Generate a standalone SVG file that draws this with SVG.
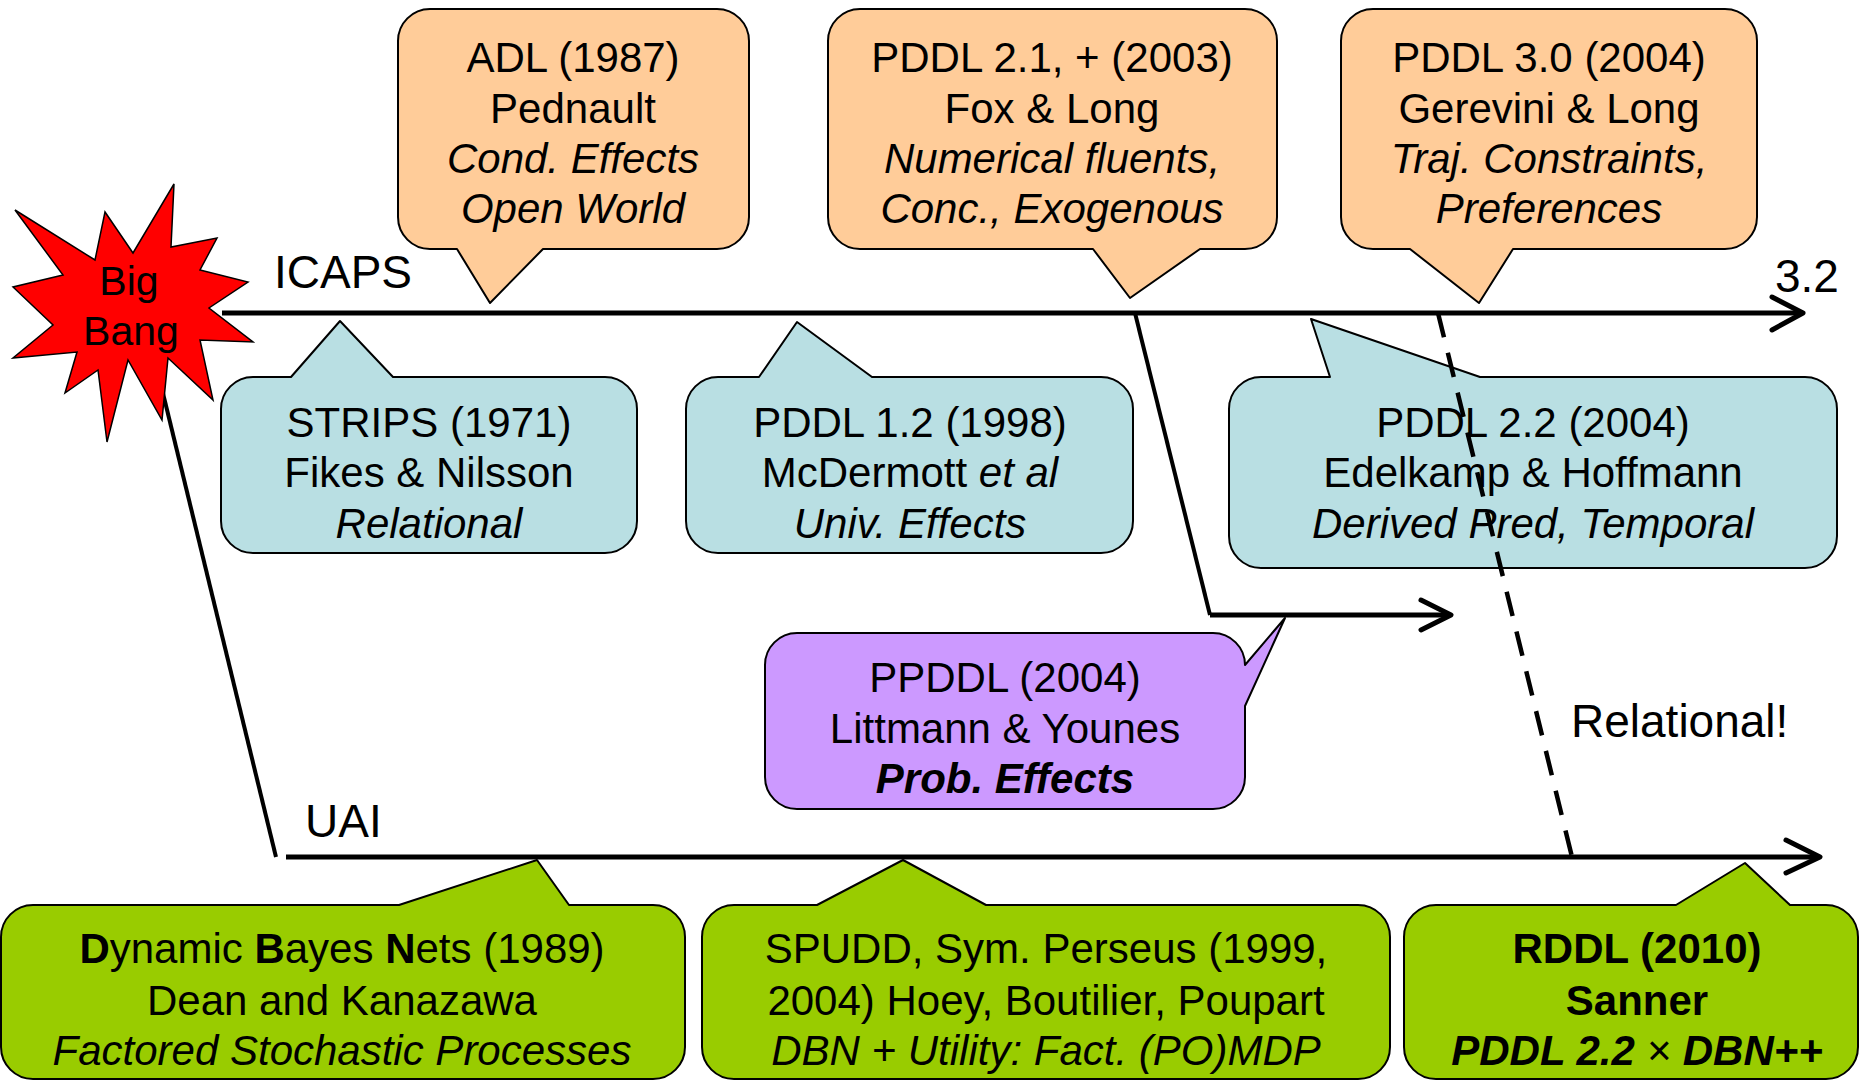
<svg xmlns="http://www.w3.org/2000/svg" width="1860" height="1081" viewBox="0 0 1860 1081">
<style>
.t{font-family:"Liberation Sans",Arial,sans-serif;font-size:42px;fill:#000;text-anchor:middle}
.lbl{font-family:"Liberation Sans",Arial,sans-serif;font-size:46px;fill:#000}
.i{font-style:italic}
.b{font-weight:bold}
.bub{stroke:#000;stroke-width:2;stroke-linejoin:round}
.or{fill:#FFCC99}
.bl{fill:#B9DFE3}
.pu{fill:#CC99FF}
.gr{fill:#99CC00}
.ln{stroke:#000;fill:none;stroke-width:5}
.arr{stroke:#000;fill:none;stroke-width:5;stroke-linecap:round;stroke-linejoin:round}
</style>
<rect width="1860" height="1081" fill="#fff"/>

<g id="nodes">
<g id="adl">
<path class="bub or" d="M430,9 H717 A32,32 0 0 1 749,41 V217 A32,32 0 0 1 717,249 H543 L490,303 L457,249 H430 A32,32 0 0 1 398,217 V41 A32,32 0 0 1 430,9 Z"/>
<text class="t" x="573" y="72">ADL (1987)</text>
<text class="t" x="573" y="123">Pednault</text>
<text class="t i" x="573" y="173">Cond. Effects</text>
<text class="t i" x="573" y="223">Open World</text>
</g>
<g id="pddl21">
<path class="bub or" d="M860,9 H1245 A32,32 0 0 1 1277,41 V217 A32,32 0 0 1 1245,249 H1200 L1130,298 L1093,249 H860 A32,32 0 0 1 828,217 V41 A32,32 0 0 1 860,9 Z"/>
<text class="t" x="1052" y="72">PDDL 2.1, + (2003)</text>
<text class="t" x="1052" y="123">Fox &amp; Long</text>
<text class="t i" x="1052" y="173">Numerical fluents,</text>
<text class="t i" x="1052" y="223">Conc., Exogenous</text>
</g>
<g id="pddl30">
<path class="bub or" d="M1373,9 H1725 A32,32 0 0 1 1757,41 V217 A32,32 0 0 1 1725,249 H1513 L1479,303 L1410,249 H1373 A32,32 0 0 1 1341,217 V41 A32,32 0 0 1 1373,9 Z"/>
<text class="t" x="1549" y="72">PDDL 3.0 (2004)</text>
<text class="t" x="1549" y="123">Gerevini &amp; Long</text>
<text class="t i" x="1549" y="173">Traj. Constraints,</text>
<text class="t i" x="1549" y="223">Preferences</text>
</g>
<g id="strips">
<path class="bub bl" d="M253,377 H291 L340,321 L393,377 H605 A32,32 0 0 1 637,409 V521 A32,32 0 0 1 605,553 H253 A32,32 0 0 1 221,521 V409 A32,32 0 0 1 253,377 Z"/>
<text class="t" x="429" y="437">STRIPS (1971)</text>
<text class="t" x="429" y="487">Fikes &amp; Nilsson</text>
<text class="t i" x="429" y="538">Relational</text>
</g>
<g id="pddl12">
<path class="bub bl" d="M718,377 H759 L797,322 L872,377 H1101 A32,32 0 0 1 1133,409 V521 A32,32 0 0 1 1101,553 H718 A32,32 0 0 1 686,521 V409 A32,32 0 0 1 718,377 Z"/>
<text class="t" x="910" y="437">PDDL 1.2 (1998)</text>
<text class="t" x="910" y="487">McDermott <tspan class="i">et al</tspan></text>
<text class="t i" x="910" y="538">Univ. Effects</text>
</g>
<g id="pddl22">
<path class="bub bl" d="M1261,377 H1330 L1311,319 L1480,377 H1805 A32,32 0 0 1 1837,409 V536 A32,32 0 0 1 1805,568 H1261 A32,32 0 0 1 1229,536 V409 A32,32 0 0 1 1261,377 Z"/>
<text class="t" x="1533" y="437">PDDL 2.2 (2004)</text>
<text class="t" x="1533" y="487">Edelkamp &amp; Hoffmann</text>
<text class="t i" x="1533" y="538">Derived Pred, Temporal</text>
</g>
<g id="ppddl">
<path class="bub pu" d="M797,633 H1213 A32,32 0 0 1 1245,665 L1285,618 L1245,706 V777 A32,32 0 0 1 1213,809 H797 A32,32 0 0 1 765,777 V665 A32,32 0 0 1 797,633 Z"/>
<text class="t" x="1005" y="692">PPDDL (2004)</text>
<text class="t" x="1005" y="743">Littmann &amp; Younes</text>
<text class="t b i" x="1005" y="793">Prob. Effects</text>
</g>
<g id="dbn">
<path class="bub gr" d="M33,905 H399 L537,860 L569,905 H653 A32,32 0 0 1 685,937 V1047 A32,32 0 0 1 653,1079 H33 A32,32 0 0 1 1,1047 V937 A32,32 0 0 1 33,905 Z"/>
<text class="t" x="342" y="963"><tspan class="b">D</tspan>ynamic <tspan class="b">B</tspan>ayes <tspan class="b">N</tspan>ets (1989)</text>
<text class="t" x="342" y="1015">Dean and Kanazawa</text>
<text class="t i" x="342" y="1065">Factored Stochastic Processes</text>
</g>
<g id="spudd">
<path class="bub gr" d="M734,905 H817 L903,860 L986,905 H1358 A32,32 0 0 1 1390,937 V1047 A32,32 0 0 1 1358,1079 H734 A32,32 0 0 1 702,1047 V937 A32,32 0 0 1 734,905 Z"/>
<text class="t" x="1046" y="963">SPUDD, Sym. Perseus (1999,</text>
<text class="t" x="1046" y="1015">2004) Hoey, Boutilier, Poupart</text>
<text class="t i" x="1046" y="1065">DBN + Utility: Fact. (PO)MDP</text>
</g>
<g id="rddl">
<path class="bub gr" d="M1436,905 H1676 L1745,863 L1790,905 H1826 A32,32 0 0 1 1858,937 V1047 A32,32 0 0 1 1826,1079 H1436 A32,32 0 0 1 1404,1047 V937 A32,32 0 0 1 1436,905 Z"/>
<text class="t b" x="1637" y="963">RDDL (2010)</text>
<text class="t b" x="1637" y="1015">Sanner</text>
<text class="t b i" x="1637" y="1065">PDDL 2.2 <tspan font-weight="normal">×</tspan> DBN++</text>
</g>
</g>

<g id="connectors">
<line class="ln" x1="222" y1="313" x2="1800" y2="313"/>
<polyline class="arr" points="1772,297 1803,313 1772,330"/>
<line class="ln" x1="286" y1="857" x2="1817" y2="857"/>
<polyline class="arr" points="1786,840 1820,857 1786,873"/>
<line stroke="#000" stroke-width="4" x1="150" y1="340" x2="276" y2="857"/>
<polyline fill="none" stroke="#000" stroke-width="4" points="1135,313 1210,615"/>
<line class="ln" x1="1210" y1="615" x2="1448" y2="615"/>
<polyline class="arr" points="1421,600 1451,615 1421,630"/>
<line stroke="#000" stroke-width="4.5" stroke-dasharray="25 16" x1="1438" y1="313" x2="1572" y2="857"/>
</g>

<g id="bigbang">
<polygon fill="#FF0000" stroke="#000" stroke-width="1.5" stroke-linejoin="miter" points="15,210 95,260 105,212 133,253 174,184 171,247 217,238 200,270 248,282 209,308 253,342 200,340 213,400 168,358 162,420 128,360 107,442 98,370 65,393 77,352 13,358 53,325 13,287 63,275"/>
<text class="t" x="129" y="295" style="font-size:41px">Big</text>
<text class="t" x="131" y="345" style="font-size:41px">Bang</text>
</g>

<g id="labels">
<text class="lbl" x="274" y="288">ICAPS</text>
<text class="lbl" x="1775" y="292">3.2</text>
<text class="lbl" x="305" y="837">UAI</text>
<text class="lbl" x="1571" y="737">Relational!</text>
</g>
</svg>
